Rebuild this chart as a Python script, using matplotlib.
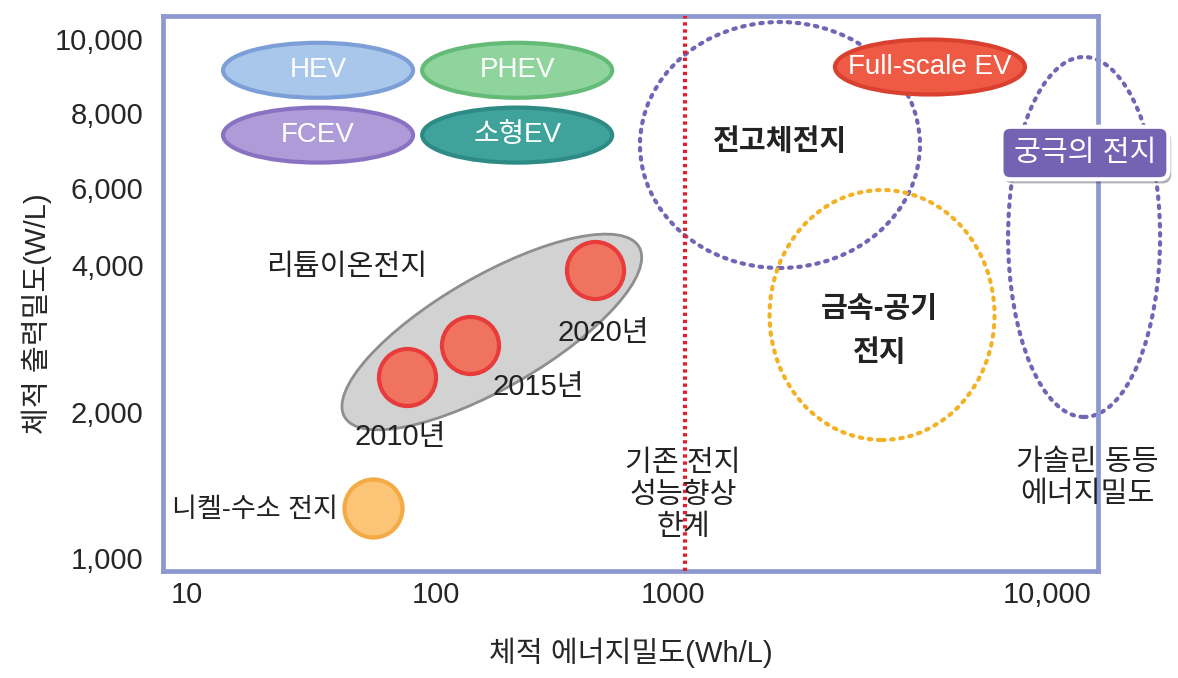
import numpy as np
import matplotlib
matplotlib.use('Agg')
import matplotlib.pyplot as plt
import matplotlib.transforms as mtransforms
import matplotlib.patheffects as pe
from matplotlib.patches import Ellipse

plt.rcParams['font.family'] = ['Liberation Sans', 'Noto Sans CJK KR']

# 축 눈금 (원본 그림의 비균일 로그 눈금)
x_ticks = [10, 100, 1000, 10000]
x_tick_labels = ['10', '100', '1000', '10,000']
y_ticks = [1000, 2000, 4000, 6000, 8000, 10000]
y_tick_labels = ['1,000', '2,000', '4,000', '6,000', '8,000', '10,000']

# 리튬이온전지 연도별 위치 (Wh/L, W/L)
li_years = ['2010년', '2015년', '2020년']
li_energy = [76.5, 139, 469]
li_power = [2360, 2740, 3905]
li_label_x = [71.6, 269, 507]
li_label_y = [1776, 2250, 2903]

# 니켈-수소 전지
nimh_energy = [55.8]
nimh_power = [1268]

# 차량 종류 타원
vehicles = ['HEV', 'PHEV', 'FCEV', '소형EV', 'Full-scale EV']
vehicle_x = [33.6, 220, 33.6, 220, 4864]
vehicle_y = [9100, 9100, 7350, 7350, 9190]
vehicle_face = ['#a8c7ea', '#8fd49c', '#ae9bd8', '#3fa39c', '#ef5a44']
vehicle_edge = ['#7d9fd8', '#63bb77', '#8a72c2', '#2d8a84', '#d9402f']

# 차세대 전지 영역
future_names = ['전고체전지', '금속-공기\n전지', '궁극의 전지']
future_x = [1932, 3622, 12565]
future_y = [7076, 3160, 4636]

limit_x = 1077  # 기존 전지 성능향상 한계


def log_piecewise(ticks, pos):
    lt = np.log10(ticks)
    s0 = (pos[1] - pos[0]) / (lt[1] - lt[0])
    s1 = (pos[-1] - pos[-2]) / (lt[-1] - lt[-2])
    lt_e = np.r_[lt[0] - 5, lt, lt[-1] + 5]
    pos_e = np.r_[pos[0] - 5 * s0, pos, pos[-1] + 5 * s1]

    def fwd(v):
        v = np.asarray(v, dtype=float)
        return np.interp(np.log10(np.maximum(v, 1e-12)), lt_e, pos_e)

    def inv(p):
        p = np.asarray(p, dtype=float)
        return 10 ** np.interp(p, pos_e, lt_e)
    return fwd, inv


xf, xi = log_piecewise(x_ticks, [187, 436, 673, 1047])
yf, yi = log_piecewise(y_ticks, [0, 146, 293, 370, 445, 519])

fig = plt.figure(figsize=(11.78, 6.78), dpi=100)
ax = fig.add_axes([163 / 1178, 107 / 678, 935 / 1178, 555 / 678])
ax.set_xscale('function', functions=(xf, xi))
ax.set_yscale('function', functions=(yf, yi))
ax.set_xlim(xi(163), xi(1098))
ax.set_ylim(yi(558 - 571), yi(558 - 16))
ax.autoscale(False)

for s in ax.spines.values():
    s.set_color('#8e98d0')
    s.set_linewidth(3.4)

ax.set_xticks(x_ticks)
ax.set_xticklabels(x_tick_labels)
ax.set_yticks(y_ticks)
ax.set_yticklabels(y_tick_labels)
ax.minorticks_off()
ax.tick_params(axis='both', length=0, labelsize=21, colors='#262626')
ax.tick_params(axis='y', pad=14)
ax.tick_params(axis='x', pad=7)
ax.set_xlabel('체적 에너지밀도(Wh/L)', fontsize=21, color='#262626', va='top')
ax.set_ylabel('체적 출력밀도(W/L)', fontsize=21, color='#262626', va='center')
ax.xaxis.set_label_coords(0.5, -0.12)
ax.yaxis.set_label_coords(-0.135, 0.463)

TXT = 21


def blob(x, y, w, h, angle=0, **kw):
    tr = fig.dpi_scale_trans + mtransforms.ScaledTranslation(x, y, ax.transData)
    e = Ellipse((0, 0), w / 100, h / 100, angle=angle, transform=tr, **kw)
    ax.add_patch(e)
    return e


# 차량 타원
for name, x, y, fc, ec in zip(vehicles, vehicle_x, vehicle_y, vehicle_face, vehicle_edge):
    blob(x, y, 190, 55, facecolor=fc, edgecolor=ec, linewidth=3, zorder=4, clip_on=False)
    ax.text(x, y, name, ha='center', va='center', color='white', fontsize=20, zorder=5)

# 차세대 전지 점선 영역
dots = (0, (0.6, 1.6))
blob(future_x[0], future_y[0], 280, 246, facecolor='none', edgecolor='#6f66b6',
     linewidth=3, linestyle=dots, capstyle='round', zorder=2)
ax.text(1932, 7158, future_names[0], ha='center', va='center', fontsize=TXT,
        fontweight='bold', color='#222222', zorder=5)
blob(future_x[1], future_y[1], 225, 250, facecolor='none', edgecolor='#f3b126',
     linewidth=3, linestyle=dots, capstyle='round', zorder=2)
ax.text(3573, 2931, future_names[1], ha='center', va='center', fontsize=TXT,
        fontweight='bold', color='#222222', linespacing=1.75, zorder=5)
blob(future_x[2], future_y[2], 152, 360, facecolor='none', edgecolor='#6f66b6',
     linewidth=3, linestyle=dots, capstyle='round', zorder=2, clip_on=False)
t = ax.text(12630, 6862, future_names[2], ha='center', va='center', fontsize=TXT,
            color='white', zorder=6, clip_on=False,
            bbox=dict(boxstyle='round,pad=0.42,rounding_size=0.3', fc='#7463b3',
                      ec='white', lw=3))
t.get_bbox_patch().set_path_effects([pe.SimplePatchShadow(offset=(2, -3), alpha=0.35),
                                     pe.Normal()])

# 기존 전지 한계선
ax.axvline(limit_x, color='#e0202a', linewidth=3, linestyle=(0, (0.8, 0.9)), zorder=3)
ax.text(1063, 1349, '기존 전지\n성능향상\n한계', ha='center', va='center', fontsize=TXT,
        color='#222222', linespacing=1.2, zorder=5)
ax.text(12790, 1462, '가솔린 동등\n에너지밀도', ha='center', va='center', fontsize=TXT,
        color='#222222', linespacing=1.2, zorder=5, clip_on=False)

# 리튬이온전지 영역
blob(172, 2917, 340, 112, angle=30, facecolor='#d2d2d2', edgecolor='#8e8e8e',
     linewidth=2, zorder=2)
ax.scatter(li_energy, li_power, s=57 ** 2 * 0.52, color='#f07360', edgecolor='#e83b3b',
           linewidth=3, zorder=4)
for lbl, lx, ly in zip(li_years, li_label_x, li_label_y):
    ax.text(lx, ly, lbl, ha='center', va='center', fontsize=TXT, color='#222222', zorder=5)
ax.text(43.9, 3962, '리튬이온전지', ha='center', va='center', fontsize=TXT,
        color='#222222', zorder=5)

ax.scatter(nimh_energy, nimh_power, s=58 ** 2 * 0.52, color='#fbc476', edgecolor='#f4aa45',
           linewidth=3, zorder=4)
ax.text(40.4, 1256, '니켈-수소 전지', ha='right', va='center', fontsize=19.5,
        color='#222222', zorder=5)

fig.savefig('out.png', dpi=100, facecolor='white')
